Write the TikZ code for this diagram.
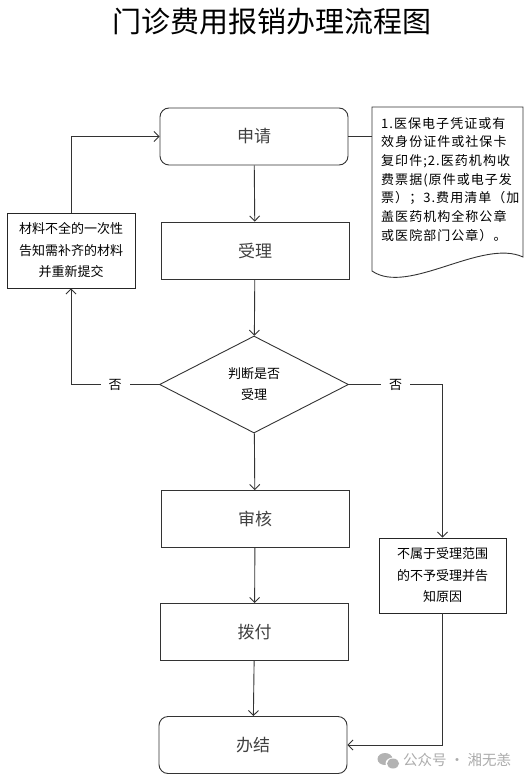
\documentclass[tikz,border=0pt]{standalone}
\usepackage{fontspec}
\newfontfamily\cjk{Noto Sans CJK SC}
\newfontfamily\cjknote[LetterSpace=8]{Noto Sans CJK SC}
\usetikzlibrary{arrows.meta,shapes.geometric}

\begin{document}
\begin{tikzpicture}[x=1pt,y=-1pt,
  box/.style={draw=black!80,line width=0.9pt,minimum width=188pt,minimum height=57pt,text=black!75,font=\cjk\fontsize{17}{20}\selectfont},
  rbox/.style={box,rounded corners=9pt},
  sidebox/.style={draw=black!85,line width=0.9pt,align=center,inner sep=0pt,minimum height=75pt,font=\cjk\fontsize{13}{21.5}\selectfont},
  plain/.style={draw=black!80,line width=0.9pt},
  link/.style={plain,-{Straight Barb[length=5pt,width=10pt]}},
  lbl/.style={fill=white,inner xsep=8pt,inner ysep=2pt,font=\cjk\fontsize{13}{15}\selectfont}]

\useasboundingbox (0,0) rectangle (527,783);

\node[font=\cjk\fontsize{29}{32}\selectfont] (title) at (272,22) {门诊费用报销办理流程图};

\node[rbox] (apply) at (254,136.5) {申请};
\node[box] (accept) at (255,250.5) {受理};
\node[plain,diamond,minimum width=189pt,minimum height=97pt,inner sep=0pt,align=center,font=\cjk\fontsize{13}{21}\selectfont] (judge) at (254,384.5) {判断是否\\受理};
\node[box] (audit) at (255,519) {审核};
\node[box] (pay) at (254.5,632) {拨付};
\node[rbox] (done) at (253,745) {办结};

\node[sidebox,minimum width=128pt] (lack) at (71,250.5) {材料不全的一次性\\告知需补齐的材料\\并重新提交};
\node[sidebox,minimum width=127pt] (reject) at (442.5,575.5) {不属于受理范围\\的不予受理并告\\知原因};

\draw[plain] (372,107) -- (523,107) -- (523,257) .. controls (482,238) and (408,296) .. (372,271) -- cycle;
\coordinate (noteL) at (372,136.5);
\node[anchor=north west,inner sep=0pt,align=left,font=\cjknote\fontsize{13}{18.7}\selectfont] (note) at (381,117) {1.医保电子凭证或有\\效身份证件或社保卡\\复印件;2.医药机构收\\费票据(原件或电子发\\票）；3.费用清单（加\\盖医药机构全称公章\\或医院部门公章）。};

\draw[link] (apply) -- (accept);
\draw[link] (accept) -- (judge);
\draw[link] (judge) -- (audit);
\draw[link] (audit) -- (pay);
\draw[link] (pay) -- (done);
\draw[plain] (apply.east) -- (noteL);
\draw[link] (judge.west) -- (judge.west -| lack.south) node[lbl,midway] {否} -- (lack.south);
\draw[link] (lack.north) |- (apply.west);
\draw[link] (judge.east) -- (judge.east -| reject.north) node[lbl,midway] {否} -- (reject.north);
\draw[link] (reject.south) |- (done.east);

\fill[black!30] (385,759) ellipse (7.5pt and 6pt);
\fill[white] (393,763.5) ellipse (7.5pt and 6pt);
\fill[black!30] (393,763.5) ellipse (6pt and 5pt);
\node[anchor=west,inner sep=0pt,text=black!33,font=\cjk\fontsize{14.5}{16}\selectfont] (mark) at (403,760) {公众号 · 湘无恙};
\end{tikzpicture}
\end{document}
